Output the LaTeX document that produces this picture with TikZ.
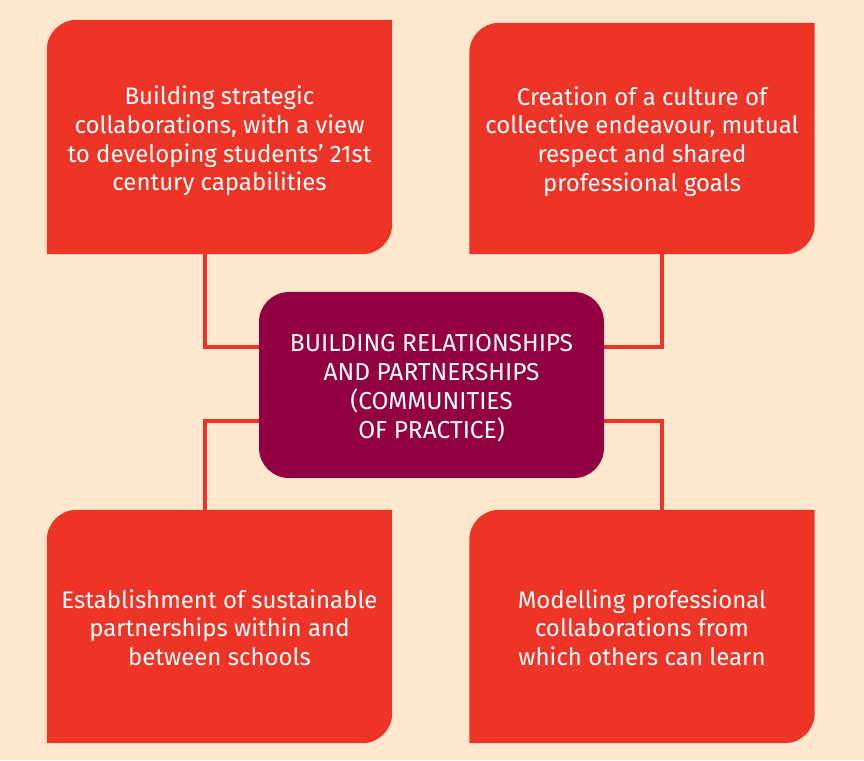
\documentclass[tikz,border=0pt]{standalone}
\usepackage{fontspec}
\setmainfont{Fira Sans}
\usetikzlibrary{backgrounds}
\definecolor{bgbeige}{HTML}{FDE8CD}
\definecolor{boxred}{HTML}{EE3426}
\definecolor{maroon}{HTML}{930041}
\tikzset{
  leafbox/.style={inner sep=0pt, minimum width=345pt},
  leaftext/.style={text=white, align=center, inner sep=0pt,
    font=\fontsize{24}{28.6}\selectfont},
  hubbox/.style={fill=maroon, rounded corners=30pt,
    minimum width=345pt, minimum height=186pt, inner sep=0pt},
  hubtext/.style={text=white, align=center, inner sep=0pt,
    font=\fontsize{24.5}{28.8}\selectfont},
  conn/.style={draw=boxred, line width=4pt},
  leaffill/.style={fill=boxred}
}
\newcommand{\leafshape}[1]{%
  \fill[leaffill] (#1.south west) -- ([yshift=-30pt]#1.north west)
    arc[start angle=180,end angle=90,radius=30pt] -- (#1.north east)
    -- ([yshift=30pt]#1.south east)
    arc[start angle=0,end angle=-90,radius=30pt] -- cycle;}
\begin{document}
\begin{tikzpicture}[x=1pt,y=1pt]
\useasboundingbox (0,0) rectangle (864,760);
\node[leafbox, minimum height=234pt] (tl) at (219.5,623) {};
\node[leafbox, minimum height=231pt] (tr) at (642,621.5) {};
\node[leafbox, minimum height=233pt] (bl) at (219.5,133.5) {};
\node[leafbox, minimum height=233pt] (br) at (642,133.5) {};
\node[hubbox] (c) at (431.5,375) {};
\node[leaftext] (tlt) at ([yshift=-4pt]tl.center) {Building strategic\\collaborations, with a view\\to developing students’ 21st\\century capabilities};
\node[leaftext] (trt) at ([yshift=-3pt]tr.center) {Creation of a culture of\\collective endeavour, mutual\\respect and shared\\professional goals};
\node[leaftext] (blt) at ([yshift=-1pt]bl.center) {Establishment of sustainable\\partnerships within and\\between schools};
\node[leaftext] (brt) at ([yshift=-1pt]br.center) {Modelling professional\\collaborations from\\which others can learn};
\node[hubtext] (ct) at ([yshift=-3pt]c.center) {BUILDING RELATIONSHIPS\\AND PARTNERSHIPS\\(COMMUNITIES\\OF PRACTICE)};
\begin{scope}[on background layer]
\fill[bgbeige] (0,0) rectangle (864,760);
\leafshape{tl}
\leafshape{tr}
\leafshape{bl}
\leafshape{br}
\draw[conn] ([xshift=-14.5pt]tl.south) |- ([yshift=38pt]c.west);
\draw[conn] ([xshift=20pt]tr.south) |- ([yshift=38pt]c.east);
\draw[conn] ([yshift=-36pt]c.west) -| ([xshift=-14.5pt]bl.north);
\draw[conn] ([yshift=-36pt]c.east) -| ([xshift=20pt]br.north);
\end{scope}
\end{tikzpicture}
\end{document}
